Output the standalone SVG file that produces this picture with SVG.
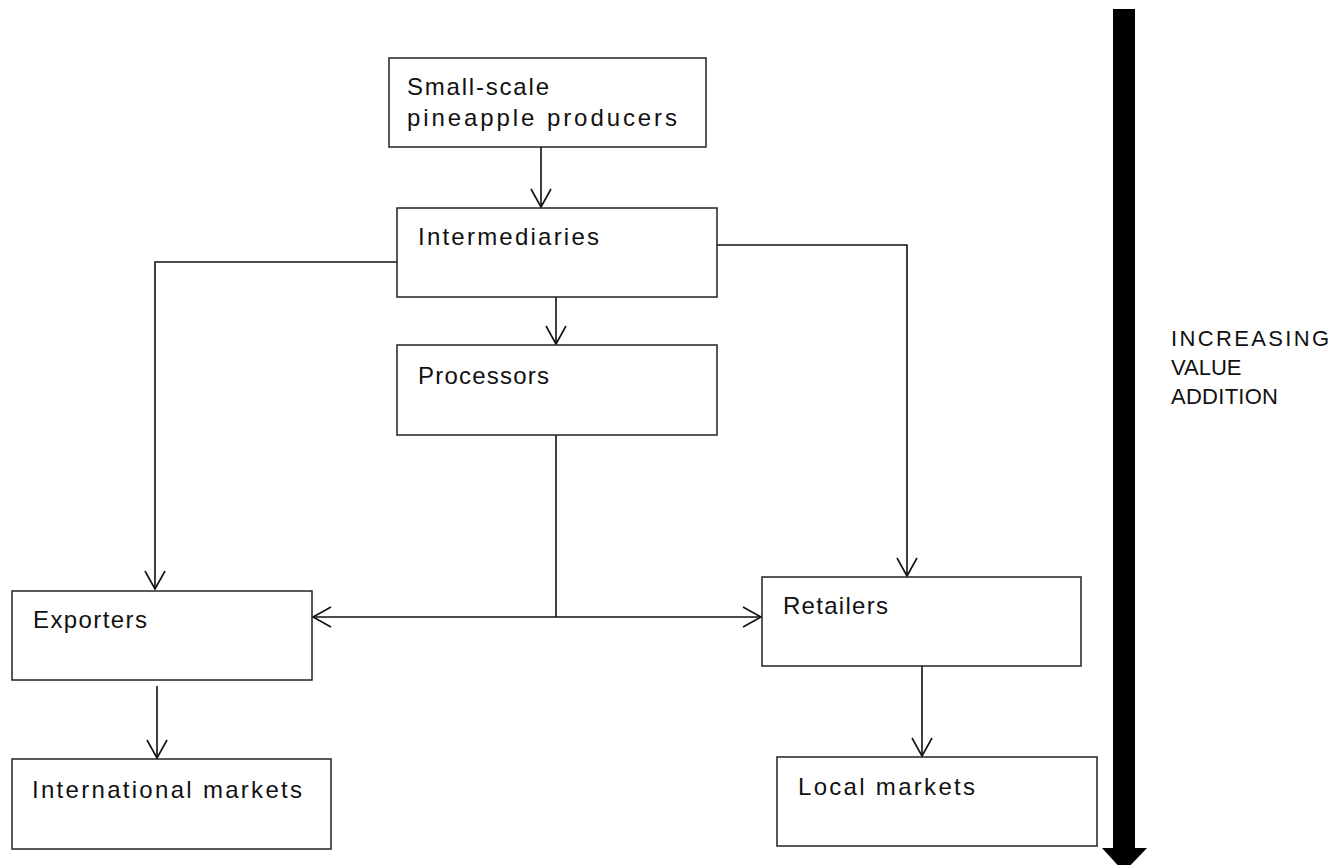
<svg xmlns="http://www.w3.org/2000/svg" width="1344" height="865" viewBox="0 0 1344 865">
<style>
.box{fill:#fff;stroke:#222;stroke-width:1.5}
.lbl{font-family:"Liberation Sans",Arial,sans-serif;font-size:24px;fill:#111}
.side{font-family:"Liberation Sans",Arial,sans-serif;font-size:22px;fill:#111}
.con{fill:none;stroke:#111;stroke-width:1.6}
</style>
<defs>
<marker id="ah" markerUnits="userSpaceOnUse" markerWidth="24" markerHeight="24" refX="20" refY="12" orient="auto" overflow="visible">
<path d="M2,2 L20,12 L2,22" fill="none" stroke="#111" stroke-width="1.6"/>
</marker>
</defs>
<rect width="1344" height="865" fill="#fff"/>
<g id="connectors">
<line class="con" x1="541" y1="147" x2="541" y2="207" marker-end="url(#ah)"/>
<line class="con" x1="556" y1="297" x2="556" y2="344" marker-end="url(#ah)"/>
<polyline class="con" points="397,262 155,262 155,589" marker-end="url(#ah)"/>
<polyline class="con" points="717,245 907,245 907,576" marker-end="url(#ah)"/>
<line class="con" x1="556" y1="435" x2="556" y2="617"/>
<line class="con" x1="556" y1="617" x2="313" y2="617" marker-end="url(#ah)"/>
<line class="con" x1="556" y1="617" x2="761" y2="617" marker-end="url(#ah)"/>
<line class="con" x1="157" y1="686" x2="157" y2="758" marker-end="url(#ah)"/>
<line class="con" x1="922" y1="666" x2="922" y2="756" marker-end="url(#ah)"/>
</g>
<g id="producers">
<rect class="box" x="389" y="58" width="317" height="89"/>
<text class="lbl" x="407" y="95" textLength="142" lengthAdjust="spacing">Small-scale</text>
<text class="lbl" x="407" y="126" textLength="270" lengthAdjust="spacing">pineapple producers</text>
</g>
<g id="intermediaries">
<rect class="box" x="397" y="208" width="320" height="89"/>
<text class="lbl" x="418" y="245" textLength="181" lengthAdjust="spacing">Intermediaries</text>
</g>
<g id="processors">
<rect class="box" x="397" y="345" width="320" height="90"/>
<text class="lbl" x="418" y="384" textLength="131" lengthAdjust="spacing">Processors</text>
</g>
<g id="exporters">
<rect class="box" x="12" y="591" width="300" height="89"/>
<text class="lbl" x="33" y="628" textLength="114" lengthAdjust="spacing">Exporters</text>
</g>
<g id="retailers">
<rect class="box" x="762" y="577" width="319" height="89"/>
<text class="lbl" x="783" y="614" textLength="105" lengthAdjust="spacing">Retailers</text>
</g>
<g id="international">
<rect class="box" x="12" y="759" width="319" height="90"/>
<text class="lbl" x="32" y="798" textLength="270" lengthAdjust="spacing">International markets</text>
</g>
<g id="local">
<rect class="box" x="777" y="757" width="320" height="89"/>
<text class="lbl" x="798" y="795" textLength="177" lengthAdjust="spacing">Local markets</text>
</g>
<g id="value-arrow">
<polygon points="1113,9 1135,9 1135,848 1147,848 1124,872 1102,848 1113,848" fill="#000"/>
<text class="side" x="1171" y="346" textLength="158" lengthAdjust="spacing">INCREASING</text>
<text class="side" x="1171" y="375">VALUE</text>
<text class="side" x="1171" y="404" textLength="107" lengthAdjust="spacing">ADDITION</text>
</g>
</svg>
